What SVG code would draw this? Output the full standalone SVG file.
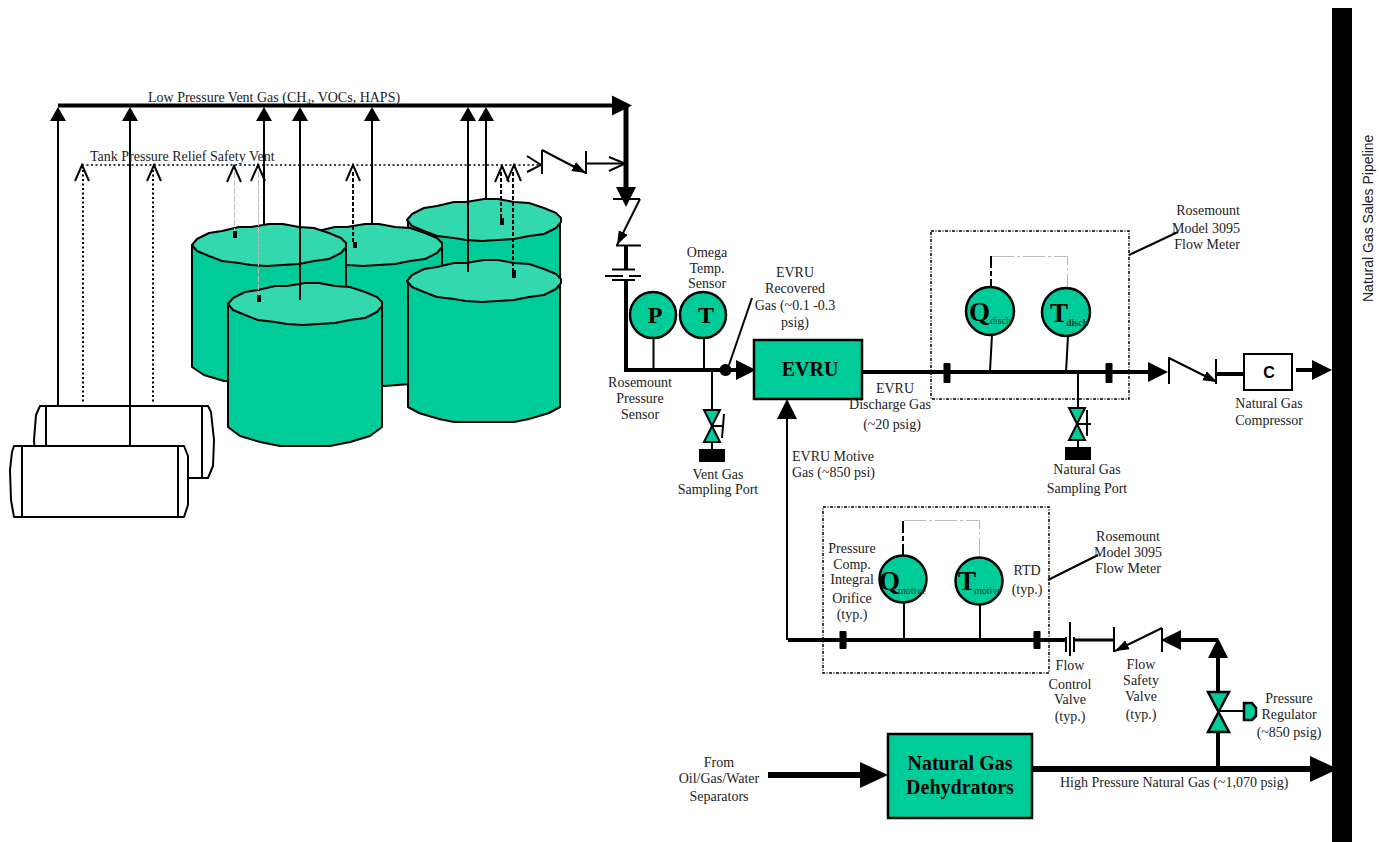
<svg xmlns="http://www.w3.org/2000/svg" width="1379" height="842" viewBox="0 0 1379 842">
<style>
text{font-family:"Liberation Serif","Times New Roman",serif;font-size:14px;fill:#222}
.m{text-anchor:middle}
.e{text-anchor:end}
.sans{font-family:"Liberation Sans",Arial,sans-serif}
.b{font-weight:bold;fill:#000}
.l20{font-size:20px}
.big{font-size:24px}
.q{font-size:27px}
.sub{font-size:10px;fill:#043}
.line{fill:none;stroke:#000;stroke-width:2}
.t3{stroke-width:3}
.t4{stroke-width:4}
.t5{stroke-width:5}
.t6{stroke-width:6}
.dot{fill:none;stroke:#000;stroke-width:2;stroke-dasharray:2 2.5}
.dash{fill:none;stroke:#000;stroke-width:2;stroke-dasharray:4 2}
.ghost{fill:none;stroke:#bbb;stroke-width:1;stroke-dasharray:6 2}
.dd{fill:none;stroke:#000;stroke-width:2;stroke-dasharray:12 3 5 3}
.ddg{fill:none;stroke:#bbb;stroke-width:1;stroke-dasharray:22 3 3 3}
.box{fill:none;stroke:#000;stroke-width:1.5;stroke-dasharray:3 1.5 1 1.5}
.eq{fill:#00cc99;stroke:#000;stroke-width:2.5}
.top{fill:#33d8ae;stroke:#000;stroke-width:2;stroke-linejoin:round}
.body{fill:#00cc99;stroke:#000;stroke-width:2;stroke-linejoin:round}
.ves{fill:#fff;stroke:#000;stroke-width:2;stroke-linejoin:round}
.solid{fill:#000}
.open{fill:none;stroke:#000;stroke-width:2}
</style>
<defs>
<marker id="s" markerUnits="userSpaceOnUse" markerWidth="15" markerHeight="18" refX="0" refY="9" orient="auto"><path d="M0,1 L14,9 L0,17Z"/></marker>
<marker id="m" markerUnits="userSpaceOnUse" markerWidth="21" markerHeight="22" refX="0" refY="11" orient="auto"><path d="M0,1 L20,11 L0,21Z"/></marker>
<marker id="l" markerUnits="userSpaceOnUse" markerWidth="29" markerHeight="28" refX="0" refY="14" orient="auto"><path d="M0,1 L28,14 L0,27Z"/></marker>
<marker id="c" markerUnits="userSpaceOnUse" markerWidth="15" markerHeight="12" refX="14" refY="6" orient="auto"><path d="M0,1 L14,6 L0,11Z"/></marker>
<path id="oa" class="open" d="M-7,16 L0,0 L7,16"/>
<g id="valve"><path class="eq" style="stroke-width:2" d="M-8,-16 H8 L0,0Z M-8,16 H8 L0,0Z"/></g>
<path id="tt" class="top" d="M-77,0 L-72,-6 L-60,-12 L-47,-14 L-30,-18 L-18,-18 L0,-21 L14,-21 L30,-18 L45,-17 L60,-12 L72,-7 L77,-2 L77,2 L72,8 L60,14 L45,16 L30,19 L14,20 L-2,21 L-18,20 L-30,18 L-47,16 L-60,11 L-72,6Z"/>
</defs>

<g id="sales-pipeline"><rect x="1332" y="8" width="20" height="834" fill="#000"/>
<text class="sans" transform="translate(1373,302) rotate(-90)">Natural Gas Sales Pipeline</text></g>

<g id="separator-back"><path class="ves" d="M40,406 H208 L211,412 L214,440 L213,466 L208,478 H40 L36,466 L34,440 L36,415Z"/><path class="line" d="M46,406 V478 M202,406 V478"/></g>
<g id="separator-front"><path class="ves" d="M14,446 H184 L188,456 L188,505 L184,517 H14 L11,500 L10,470 L12,452Z"/><path class="line" d="M22,446 V517 M178,446 V517"/></g>

<g id="tank-c" transform="translate(484,220)"><path class="body" d="M-76,0 V60 H76 V0Z"/><use href="#tt"/></g>
<g id="tank-b" transform="translate(365,245)"><path class="body" d="M-77,0 V122 L-65,130 L-45,136 L20,141 L45,139 L65,130 L77,122 V0Z"/><use href="#tt"/></g>
<g id="tank-a" transform="translate(269,245)"><path class="body" d="M-77,0 V122 L-65,130 L-45,136 H45 L65,130 L77,122 V0Z"/><use href="#tt"/></g>
<g id="tank-d" transform="translate(484,281)"><path class="body" d="M-76,0 V126 L-65,132 L-45,138 L-30,141 H30 L45,138 L65,132 L76,126 V0Z"/><use href="#tt"/></g>
<g id="tank-e" transform="translate(305,304)"><path class="body" d="M-77,0 V123 L-65,132 L-45,138 L-25,142 H25 L45,138 L65,132 L77,123 V0Z"/><use href="#tt"/></g>

<g id="connectors">
<path class="line t4" d="M58,105.500 H612" marker-end="url(#m)"/>
<path class="line" d="M58,406 V121" marker-end="url(#s)"/>
<path class="line" d="M130,446 V121" marker-end="url(#s)"/>
<path class="line" d="M264,224 V121" marker-end="url(#s)"/>
<path class="line" d="M300,300 V121" marker-end="url(#s)"/>
<path class="line" d="M372,224 V121" marker-end="url(#s)"/>
<path class="line" d="M468,272 V121" marker-end="url(#s)"/>
<path class="line" d="M486,200 V121" marker-end="url(#s)"/>

<path class="dot" style="stroke-width:1.500" d="M82,165 H540"/>
<path class="dot" d="M83,170 V404 M153,170 V404"/>
<path class="ghost" d="M234.500,172 V230 M258.500,172 V294"/>
<path class="dash" d="M353,172 V243 M501,172 V219 M513,172 V270"/>
<path class="solid" d="M233,231 h4 v7 h-4Z M257,295 h4 v7 h-4Z M353,242 h4 v6 h-4Z M500,218 h4 v7 h-4Z M512,270 h4 v8 h-4Z"/>
<use href="#oa" x="82" y="165"/><use href="#oa" x="154" y="165"/><use href="#oa" x="234" y="166"/><use href="#oa" x="258" y="165"/><use href="#oa" x="353" y="165"/><use href="#oa" x="502" y="166"/><use href="#oa" x="514" y="165"/>

<path class="open" d="M527,156 L541,165 L527,172"/>
<path class="line" d="M542,150 V174 M586,151 V174"/>
<path class="line" d="M542,150 L586,173" marker-end="url(#c)"/>
<path class="line" d="M586,163.500 H624"/>
<path class="open" d="M609,157 L625,163.500 L609,171"/>

<path class="line t5" d="M626,105 V187" marker-end="url(#m)"/>
<path class="line" d="M613,199 H640 M616,245.500 H641"/>
<path class="line" d="M640,199 L617,245" marker-end="url(#c)"/>
<path class="line t4" d="M626,246 V270"/>
<path class="line" d="M612,269.500 H635 M605,276 H623 M629,276 H641 M612,280 H635"/>
<path class="line t4" d="M626,279 V370 H736" marker-end="url(#m)"/>
<path d="M725.500,364 a6,6 0 1,0 .01,0Z"/>
<path class="line" d="M752,298 L729,365"/>

<path class="line" d="M712,370 V410 M712,442 V450"/>
<use href="#valve" x="712" y="426"/>
<path class="line" d="M712,426 H722 M724,414 L722,438"/>

<path class="line t4" d="M862,372 H1148" marker-end="url(#m)"/>
<path class="line" d="M1169,357 V384 M1216,359 V384"/>
<path class="line" d="M1169,358 L1217,382" marker-end="url(#c)"/>
<path class="line t4" d="M1216,374 H1244"/>
<path class="line t4" d="M1296,370 H1312" marker-end="url(#m)"/>
<path class="line" d="M992,335 L990,371 M1068,336 L1066,372"/>
<path class="dd" d="M991,256 V288"/><path class="ddg" d="M992,256.500 H1067.500 V287"/>
<path class="line" d="M1078,372 V408 M1078,440 V447"/>
<use href="#valve" x="1077" y="424"/>
<path class="line" d="M1077,424 H1091 M1087,410 V436"/>
<path class="line" d="M1129,255 L1178,232"/>

<path class="line" d="M787,640 V419" marker-end="url(#m)"/>
<path class="line t4" d="M788,640 H1065"/>
<path class="line" d="M1066,637 V652 M1070,622 V656 M1074,637 V652"/>
<path class="line t3" d="M1075,640 H1114"/>
<path class="line" d="M1114,627 V652 M1162,628 V652"/>
<path class="line" d="M1162,628 L1115,651" marker-end="url(#c)"/>
<path class="line" d="M904,603 V640 M980,605 V642"/>
<path class="dd" d="M903,521 V556"/><path class="ddg" d="M904,520.500 H979.500 V557"/>
<path class="line" d="M1048,580 L1098,555"/>

<path class="line t4" d="M1218,640 H1181" marker-end="url(#m)"/>
<path class="line t4" d="M1218,692 V658" marker-end="url(#m)"/>
<path class="line t4" d="M1218,732 V768"/>
<path class="line" d="M1218,711 H1244"/>
<path class="line t6" d="M1032,769 H1310" marker-end="url(#l)"/>
<path class="line t6" d="M768,775 H860" marker-end="url(#l)"/>
</g>

<g id="orifices" class="solid">
<rect x="943.500" y="363" width="7" height="20" rx="1"/><rect x="1105.500" y="363" width="7" height="20" rx="1"/>
<rect x="839.500" y="631" width="7" height="18" rx="1"/><rect x="1033.500" y="631" width="7" height="18" rx="1"/>
</g>

<g id="flow-meter-discharge"><rect class="box" x="931" y="231" width="198" height="168"/></g>
<g id="flow-meter-motive"><rect class="box" x="823" y="507" width="226" height="166"/></g>

<g id="sampling-vent"><rect class="solid" x="699" y="449" width="26" height="13"/></g>
<g id="sampling-gas"><rect class="solid" x="1065" y="447" width="26" height="13"/></g>

<g id="regulator"><path class="eq" d="M1208,692 H1229 L1218.500,712 L1229,732 H1208 L1218.500,712Z"/>
<path class="eq" d="M1244,703 H1252 L1256,708 V716 L1252,720 H1244Z"/></g>

<g id="sensor-p"><circle class="eq" cx="653" cy="315" r="23"/><text class="b big m" x="655" y="323">P</text></g>
<g id="sensor-t"><circle class="eq" cx="703" cy="315" r="23"/><text class="b big m" x="706" y="323">T</text></g>
<path class="line" d="M653.500,338 V370 M704,338 V370"/>

<g id="evru"><rect class="eq" x="754" y="340" width="108" height="59"/><text class="b l20 m" x="810" y="376">EVRU</text></g>

<g id="q-disch"><circle class="eq" cx="990" cy="311" r="24"/><text class="b q" x="969" y="321">Q</text><text class="sub" x="990" y="324">disch</text></g>
<g id="t-disch"><circle class="eq" cx="1066" cy="312" r="24"/><text class="b q" x="1050" y="322">T</text><text class="sub b" x="1066" y="326" style="fill:#043">disch</text></g>
<g id="q-motive"><circle class="eq" cx="903" cy="579" r="23.500"/><text class="b q" x="879" y="590">Q</text><text class="sub" x="898" y="594">motive</text></g>
<g id="t-motive"><circle class="eq" cx="979" cy="581" r="23.500"/><text class="b q" x="958" y="590">T</text><text class="sub" x="974" y="594">motive</text></g>

<g id="compressor"><rect x="1244" y="354" width="48" height="36" fill="#fff" stroke="#000" stroke-width="2"/><text class="sans b m" x="1269" y="378" style="font-size:16px">C</text></g>

<g id="dehydrators"><rect class="eq" x="888" y="734" width="144" height="84"/><text class="b m l20" x="960" y="770">Natural Gas</text><text class="b m l20" x="960" y="794">Dehydrators</text></g>

<g id="labels" transform="translate(0,1)">
<text x="148" y="101">Low Pressure Vent Gas (CH<tspan font-size="9" dy="3">4</tspan><tspan dy="-3">, VOCs, HAPS)</tspan></text>
<text x="90" y="160">Tank Pressure Relief Safety Vent</text>
<text class="m" x="707" y="256">Omega</text><text class="m" x="707" y="272">Temp.</text><text class="m" x="707" y="287">Sensor</text>
<text class="m" x="795" y="276">EVRU</text><text class="m" x="795" y="292">Recovered</text><text class="m" x="795" y="309">Gas (~0.1 -0.3</text><text class="m" x="795" y="326">psig)</text>
<text class="m" x="640" y="386">Rosemount</text><text class="m" x="640" y="402">Pressure</text><text class="m" x="640" y="418">Sensor</text>
<text class="m" x="718" y="478">Vent Gas</text><text class="m" x="718" y="493">Sampling Port</text>
<text class="m" x="895" y="392">EVRU</text><text class="m" x="890" y="408">Discharge Gas</text><text class="m" x="892" y="428">(~20 psig)</text>
<text class="m" x="1269" y="407">Natural Gas</text><text class="m" x="1269" y="424">Compressor</text>
<text class="m" x="1087" y="473">Natural Gas</text><text class="m" x="1087" y="492">Sampling Port</text>
<text class="m" x="852" y="552">Pressure</text><text class="m" x="852" y="568">Comp.</text><text class="m" x="852" y="583">Integral</text><text class="m" x="852" y="602">Orifice</text><text class="m" x="852" y="618">(typ.)</text>
<text class="m" x="1027" y="574">RTD</text><text class="m" x="1027" y="593">(typ.)</text>
<text class="m" x="1128" y="540">Rosemount</text><text class="m" x="1128" y="556">Model 3095</text><text class="m" x="1128" y="572">Flow Meter</text>
<text class="m" x="1070" y="669">Flow</text><text class="m" x="1070" y="688">Control</text><text class="m" x="1070" y="703">Valve</text><text class="m" x="1070" y="720">(typ.)</text>
<text class="m" x="1141" y="668">Flow</text><text class="m" x="1141" y="684">Safety</text><text class="m" x="1141" y="700">Valve</text><text class="m" x="1141" y="718">(typ.)</text>
<text class="m" x="1289" y="702">Pressure</text><text class="m" x="1289" y="718">Regulator</text><text class="m" x="1289" y="736">(~850 psig)</text>
<text class="m" x="719" y="766">From</text><text class="m" x="719" y="782">Oil/Gas/Water</text><text class="m" x="719" y="800">Separators</text>
<text class="e" x="1240" y="214">Rosemount</text><text class="e" x="1240" y="232">Model 3095</text><text class="e" x="1240" y="248">Flow Meter</text>
<text x="792" y="460">EVRU Motive</text><text x="792" y="476">Gas (~850 psi)</text>
<text x="1060" y="786">High Pressure Natural Gas (~1,070 psig)</text>
</g>
</svg>
